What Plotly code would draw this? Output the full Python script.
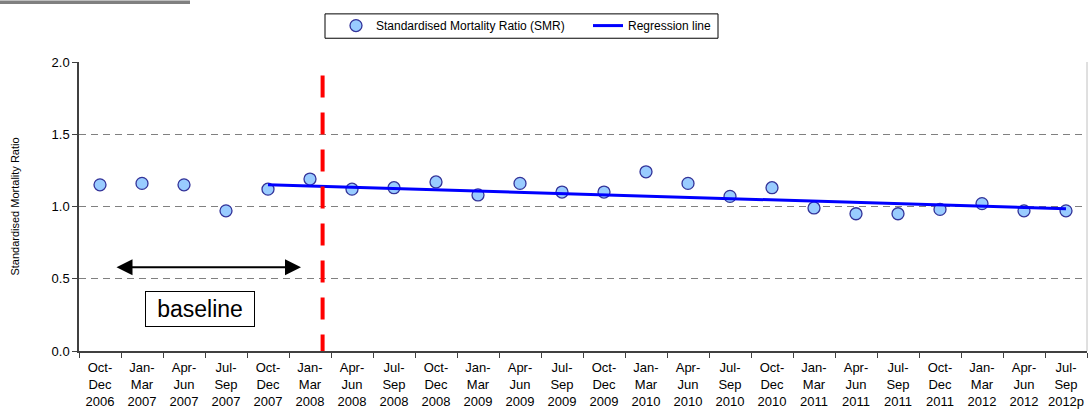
import plotly.graph_objects as go

# ---- data ----
quarters = ["Oct-<br>Dec<br>2006", "Jan-<br>Mar<br>2007", "Apr-<br>Jun<br>2007", "Jul-<br>Sep<br>2007",
            "Oct-<br>Dec<br>2007", "Jan-<br>Mar<br>2008", "Apr-<br>Jun<br>2008", "Jul-<br>Sep<br>2008",
            "Oct-<br>Dec<br>2008", "Jan-<br>Mar<br>2009", "Apr-<br>Jun<br>2009", "Jul-<br>Sep<br>2009",
            "Oct-<br>Dec<br>2009", "Jan-<br>Mar<br>2010", "Apr-<br>Jun<br>2010", "Jul-<br>Sep<br>2010",
            "Oct-<br>Dec<br>2010", "Jan-<br>Mar<br>2011", "Apr-<br>Jun<br>2011", "Jul-<br>Sep<br>2011",
            "Oct-<br>Dec<br>2011", "Jan-<br>Mar<br>2012", "Apr-<br>Jun<br>2012", "Jul-<br>Sep<br>2012p"]
smr = [1.15, 1.16, 1.15, 0.97, 1.12, 1.19, 1.12, 1.13, 1.17, 1.08, 1.16, 1.10,
       1.10, 1.24, 1.16, 1.07, 1.13, 0.99, 0.95, 0.95, 0.98, 1.02, 0.97, 0.97]
regression_x = [quarters[4], quarters[23]]
regression_y = [1.15, 0.985]
y_ticks = [0.0, 0.5, 1.0, 1.5, 2.0]

FONT = "Liberation Sans, Arial, sans-serif"

# pixel geometry helpers (plot area: x 79..1087, y 61.5..351)
L, R, T, B = 79, 1087, 61.5, 351
W, H = 1088, 409
def px_x(p):
    return (p - L) / (R - L)
def px_y(p):
    return (B - p) / (B - T)

fig = go.Figure()
fig.add_trace(go.Scatter(
    x=quarters, y=smr, mode="markers", name="Standardised Mortality Ratio (SMR)",
    marker=dict(size=12, color="#99CCFF", line=dict(color="#333399", width=1.3)),
))
fig.add_trace(go.Scatter(
    x=regression_x, y=regression_y, mode="lines", name="Regression line",
    line=dict(color="#0000FF", width=3),
))

shapes = [
    # right border of plot area
    dict(type="line", xref="paper", yref="paper", x0=1, x1=1, y0=0, y1=1,
         line=dict(color="#C0C0C0", width=1)),
    # red dashed vertical line (intervention)
    dict(type="line", xref="x", yref="y", x0=5.3, x1=5.3, y0=1.907, y1=-0.04,
         line=dict(color="#FF0000", width=4, dash="22px,15px")),
    # gray bar top-left
    dict(type="rect", xref="paper", yref="paper", x0=px_x(0), x1=px_x(190),
         y0=px_y(3.5), y1=px_y(0), fillcolor="#808080", line=dict(width=0)),
    # legend frame
    dict(type="rect", xref="paper", yref="paper", x0=px_x(325), x1=px_x(718),
         y0=px_y(37.7), y1=px_y(13.3), fillcolor="rgba(0,0,0,0)",
         line=dict(color="#000000", width=1)),
]

annotations = [
    # double-headed baseline arrow
    dict(x=4.786, y=0.58, ax=0.357, ay=0.58, xref="x", yref="y", axref="x", ayref="y",
         text="", showarrow=True, arrowhead=2, arrowside="end+start", arrowsize=1.6,
         arrowwidth=2, arrowcolor="#000000", standoff=0, startstandoff=0),
    dict(x=px_x(199.5), y=px_y(308.5), xref="paper", yref="paper", text="baseline",
         showarrow=False, font=dict(family=FONT, size=23, color="#000000"),
         bordercolor="#000000", borderwidth=1, borderpad=1, width=106, height=32,
         bgcolor="#FFFFFF", xanchor="center", yanchor="middle"),
]

fig.update_layout(
    width=W, height=H,
    margin=dict(l=L, r=W - R, t=T, b=H - B, pad=0, autoexpand=False),
    paper_bgcolor="#FFFFFF", plot_bgcolor="#FFFFFF",
    font=dict(family=FONT, size=13, color="#000000"),
    shapes=shapes, annotations=annotations,
    showlegend=True,
    legend=dict(orientation="h", x=px_x(336), y=px_y(10.5), xanchor="left", yanchor="top",
                borderwidth=0, bgcolor="rgba(0,0,0,0)",
                font=dict(family=FONT, size=12, color="#000000"),
                entrywidth=207, tracegroupgap=0),
)
fig.update_xaxes(
    type="category", range=[-0.5, 23.5], tickson="boundaries",
    ticks="outside", ticklen=5, tickcolor="#404040",
    showline=True, linecolor="#404040", linewidth=1.5,
    showgrid=False, zeroline=False, tickangle=0, automargin=False,
    ticklabelstandoff=4,
    tickfont=dict(family=FONT, size=13, color="#000000"),
)
fig.update_yaxes(
    range=[0, 2], tickvals=y_ticks, tickformat=".1f",
    ticks="outside", ticklen=5, tickcolor="#404040",
    showline=True, linecolor="#404040", linewidth=1.5,
    showgrid=True, gridcolor="#808080", gridwidth=1, griddash="7px,5px",
    zeroline=False, automargin=False,
    tickfont=dict(family=FONT, size=13, color="#000000"),
    title=dict(text="Standardised Mortality Ratio", standoff=30,
               font=dict(family=FONT, size=11, color="#000000")),
)

fig.write_html("out.html", config={"displayModeBar": False},
               post_script="document.body.style.margin='0';document.body.style.padding='0';")
